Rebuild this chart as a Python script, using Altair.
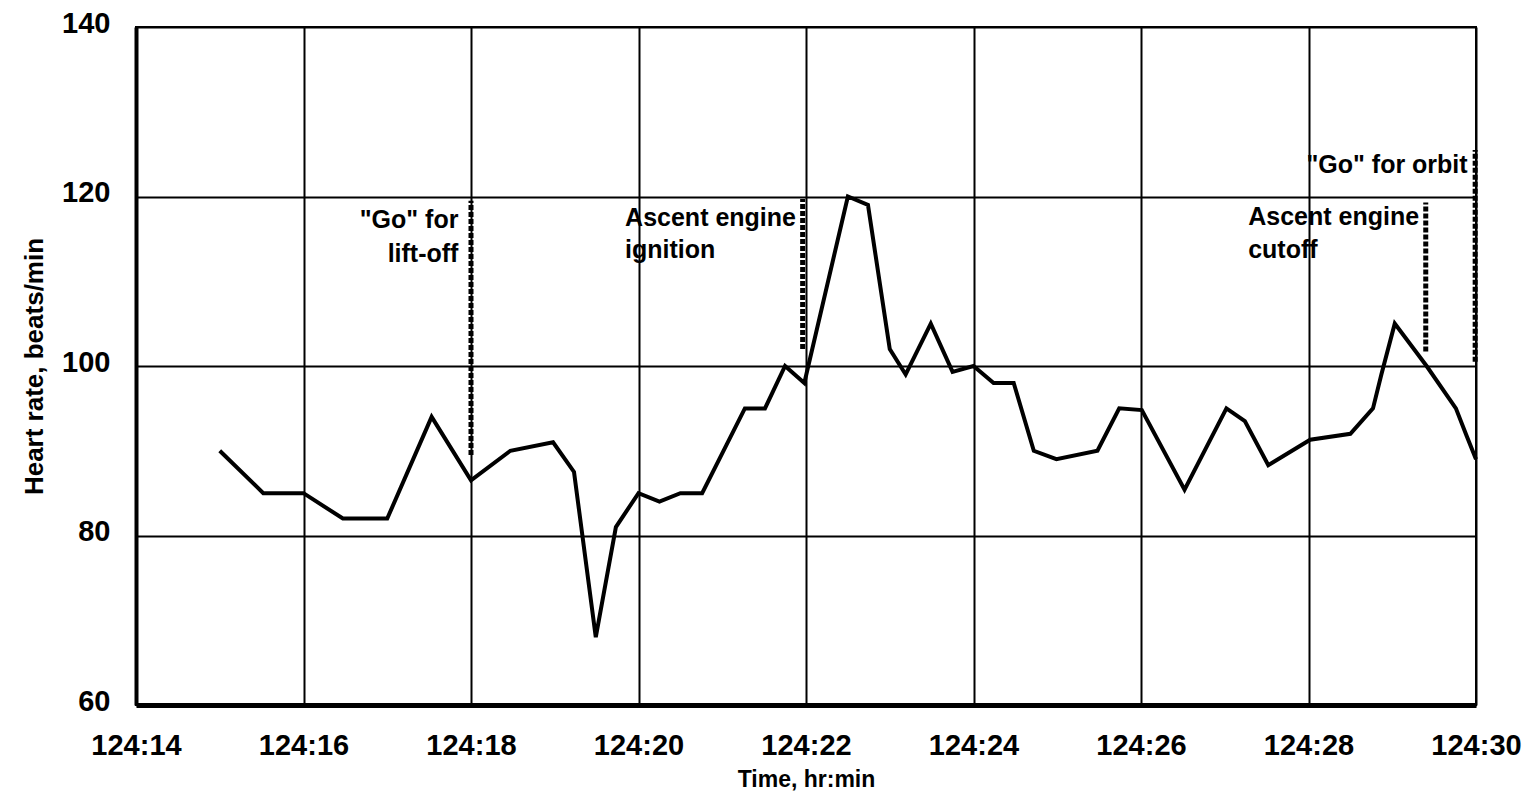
import altair as alt
import pandas as pd

# Heart-rate trace: time in minutes past 124 h, beats/min
minutes = [15.0, 15.52, 16.0, 16.47, 17.0, 17.53, 18.0, 18.47, 18.98, 19.23,
           19.49, 19.73, 20.0, 20.25, 20.5, 20.76, 21.27, 21.51, 21.75, 21.98,
           22.5, 22.74, 23.0, 23.19, 23.49, 23.75, 24.0, 24.24, 24.48, 24.72,
           24.99, 25.48, 25.74, 26.01, 26.52, 27.02, 27.24, 27.52, 28.02, 28.5,
           28.77, 28.87, 29.03, 29.41, 29.76, 29.89, 30.0]
heart_rate = [90, 85, 85, 82, 82, 94, 86.5, 90, 91, 87.5,
              68, 81, 85, 84, 85, 85, 95, 95, 100, 98,
              120, 119, 102, 99, 105, 99.3, 100, 98, 98, 90,
              89, 90, 95, 94.8, 85.4, 95, 93.5, 88.3, 91.3, 92,
              95, 99, 105, 100, 95, 91.7, 89]

# Event markers (dotted lines)
event_time = [18.0, 21.96, 29.4, 29.99]
event_low = [89.5, 102, 101.7, 100.5]
event_high = [119.5, 119.7, 119.3, 125.5]

# Event labels
label_text = ['"Go" for', 'lift-off', 'Ascent engine', 'ignition',
              'Ascent engine', 'cutoff', '"Go" for orbit']
label_time = [17.85, 17.85, 19.84, 19.84, 27.28, 27.28, 29.9]
label_rate = [116.3, 112.3, 116.5, 112.7, 116.6, 112.8, 122.8]
label_align = ["right", "right", "left", "left", "left", "left", "right"]

x_ticks = [14, 16, 18, 20, 22, 24, 26, 28, 30]
y_ticks = [60, 80, 100, 120, 140]

FONT = "Liberation Sans"

trace = pd.DataFrame({"t": minutes, "hr": heart_rate})
events = pd.DataFrame({"t": event_time, "lo": event_low, "hi": event_high})
labels = pd.DataFrame({"t": label_time, "hr": label_rate, "text": label_text,
                       "align": label_align})

x_scale = alt.Scale(domain=[14, 30], nice=False, zero=False)
y_scale = alt.Scale(domain=[60, 140], nice=False, zero=False)

x_axis = alt.Axis(values=x_ticks, labelExpr="'124:' + datum.value",
                  title="Time, hr:min", grid=True, gridColor="black",
                  gridWidth=2, gridOpacity=1, ticks=False, domainColor="black",
                  domainWidth=5, labelFont=FONT, labelFontSize=29,
                  labelFontWeight="bold", labelColor="black", labelPadding=26,
                  labelFlush=False, titleFont=FONT, titleFontSize=23,
                  titleFontWeight="bold", titleColor="black", titlePadding=8)
y_axis = alt.Axis(values=y_ticks, title="Heart rate, beats/min", grid=True,
                  gridColor="black", gridWidth=2, gridOpacity=1, ticks=False,
                  domainColor="black", domainWidth=4, labelFont=FONT,
                  labelFontSize=29, labelFontWeight="bold", labelColor="black",
                  labelPadding=26, labelOffset=-4, labelFlush=False,
                  titleFont=FONT, titleFontSize=26, titleFontWeight="bold",
                  titleColor="black", titlePadding=14)

line = alt.Chart(trace).mark_line(color="black", strokeWidth=4,
                                  strokeJoin="miter").encode(
    x=alt.X("t:Q", scale=x_scale, axis=x_axis),
    y=alt.Y("hr:Q", scale=y_scale, axis=y_axis),
)

rules = alt.Chart(events).mark_rule(color="black", strokeWidth=5,
                                    strokeDash=[5, 2], opacity=1).encode(
    x=alt.X("t:Q", scale=x_scale),
    y=alt.Y("lo:Q", scale=y_scale),
    y2="hi:Q",
    strokeWidth=alt.value(5),
)

text_right = alt.Chart(labels).transform_filter(
    alt.datum.align == "right").mark_text(
    align="right", baseline="alphabetic", font=FONT, fontSize=25,
    fontWeight="bold", color="black").encode(
    x=alt.X("t:Q", scale=x_scale), y=alt.Y("hr:Q", scale=y_scale),
    text="text:N")

text_left = alt.Chart(labels).transform_filter(
    alt.datum.align == "left").mark_text(
    align="left", baseline="alphabetic", font=FONT, fontSize=25,
    fontWeight="bold", color="black").encode(
    x=alt.X("t:Q", scale=x_scale), y=alt.Y("hr:Q", scale=y_scale),
    text="text:N")

chart = alt.layer(rules, line, text_right, text_left).properties(
    width=1340, height=678,
    autosize=alt.AutoSizeParams(type="none"),
    padding={"left": 128, "top": 19, "right": 50, "bottom": 95},
    background="white",
).configure_view(stroke="black", strokeWidth=2)

chart.save("out.html", embed_options={"renderer": "svg", "actions": False})
